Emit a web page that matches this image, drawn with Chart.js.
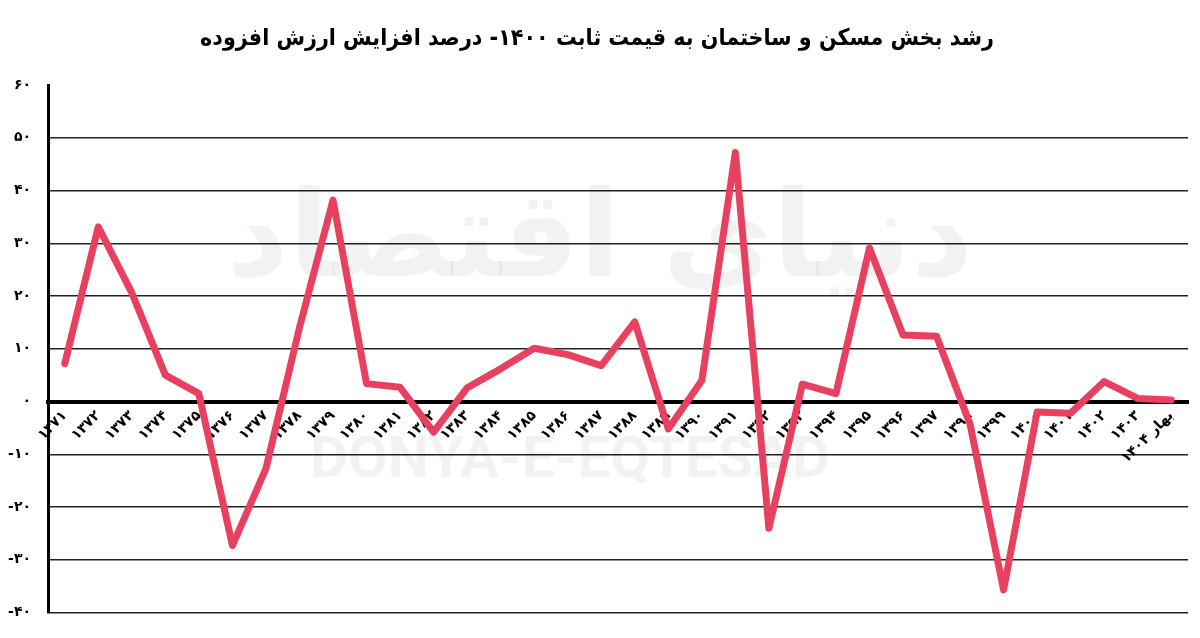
<!DOCTYPE html>
<html lang="fa">
<head>
<meta charset="utf-8">
<script src="https://cdn.jsdelivr.net/npm/chart.js@4/dist/chart.umd.min.js"></script>
<style>
  html, body { margin: 0; padding: 0; background: #fff; }
  #chart { display: block; }
</style>
</head>
<body>
<canvas id="chart" width="1200" height="638"></canvas>
<script>
// سال‌ها (برچسب محور افقی)
const years = ['۱۳۷۱', '۱۳۷۲', '۱۳۷۳', '۱۳۷۴', '۱۳۷۵', '۱۳۷۶', '۱۳۷۷', '۱۳۷۸', '۱۳۷۹', '۱۳۸۰',
    '۱۳۸۱', '۱۳۸۲', '۱۳۸۳', '۱۳۸۴', '۱۳۸۵', '۱۳۸۶', '۱۳۸۷', '۱۳۸۸', '۱۳۸۹', '۱۳۹۰',
    '۱۳۹۱', '۱۳۹۲', '۱۳۹۳', '۱۳۹۴', '۱۳۹۵', '۱۳۹۶', '۱۳۹۷', '۱۳۹۸', '۱۳۹۹', '۱۴۰۰',
    '۱۴۰۱', '۱۴۰۲', '۱۴۰۳', 'بهار ۱۴۰۴']

// درصد رشد ارزش افزوده بخش مسکن و ساختمان
const growth = [7.2, 33.1, 20.6, 5.0, 1.5, -27.3, -12.7, 14.0, 38.2, 3.4,
    2.7, -5.8, 2.6, 6.2, 10.1, 8.9, 6.8, 15.1, -5.2, 4.0,
    47.2, -24.0, 3.3, 1.5, 29.1, 12.6, 12.4, -4.3, -35.7, -2.0,
    -2.2, 3.8, 0.6, 0.3]

const yTicks = [-40, -30, -20, -10, 0, 10, 20, 30, 40, 50, 60]

const title = 'رشد بخش مسکن و ساختمان به قیمت ثابت ۱۴۰۰- درصد افزایش ارزش افزوده'

const faDigits = (v) => String(v).replace(/\d/g, d => '۰۱۲۳۴۵۶۷۸۹'[d])

const FONT = "'DejaVu Sans', sans-serif"

// واترمارک کم‌رنگ پشت نمودار
const watermark = {
    id: 'watermark',
    beforeDatasetsDraw(chart) {
        const ctx = chart.ctx
        ctx.save()
        ctx.fillStyle = 'rgba(0,0,0,0.05)'
        ctx.textAlign = 'center'
        ctx.textBaseline = 'middle'
        ctx.font = "bold 120px " + FONT
        ctx.fillText('دنیای اقتصاد', 600, 245)
        ctx.font = "bold 58px 'Roboto', sans-serif"
        ctx.fillText('DONYA-E-EQTESAD', 570, 462)
        ctx.restore()
    }
}

new Chart(document.getElementById('chart'), {
    type: 'line',
    data: {
        labels: years,
        datasets: [{
            data: growth,
            borderColor: '#e8405f',
            borderWidth: 7,
            borderCapStyle: 'round',
            borderJoinStyle: 'round',
            pointRadius: 0,
            tension: 0,
            fill: false
        }]
    },
    options: {
        responsive: false,
        animation: false,
        devicePixelRatio: 1,
        layout: { padding: { left: 6, right: 12, top: 0, bottom: 22 } },
        plugins: {
            legend: { display: false },
            tooltip: { enabled: false },
            title: {
                display: true,
                text: title,
                color: '#000',
                font: { family: "'DejaVu Sans Condensed', 'DejaVu Sans', sans-serif", size: 23, weight: 'bold' },
                padding: { top: 25, bottom: 32.4 }
            }
        },
        scales: {
            x: {
                position: { y: 0 },
                offset: true,
                afterFit: (s) => { s.paddingLeft = 0; s.paddingRight = 0 },
                grid: { display: false, drawTicks: false },
                border: { display: true, color: '#000', width: 4 },
                ticks: {
                    autoSkip: false,
                    maxRotation: 45,
                    minRotation: 45,
                    padding: 6,
                    color: '#000',
                    font: { family: FONT, size: 14, weight: 'bold' }
                }
            },
            y: {
                min: yTicks[0],
                max: yTicks[yTicks.length - 1],
                afterBuildTicks: (axis) => { axis.ticks = yTicks.map(v => ({ value: v })) },
                afterFit: (s) => { s.width = 42 },
                ticks: {
                    padding: 17,
                    color: '#000',
                    font: { family: FONT, size: 14, weight: 'bold' },
                    callback: (v) => faDigits(v)
                },
                grid: {
                    drawTicks: false,
                    color: (c) => c.tick && c.tick.value === 60 ? 'rgba(0,0,0,0)' : '#222',
                    lineWidth: (c) => c.tick && c.tick.value === 0 ? 4 : 1.5
                },
                border: { color: '#000', width: 3 }
            }
        }
    },
    plugins: [watermark]
})
</script>
</body>
</html>
